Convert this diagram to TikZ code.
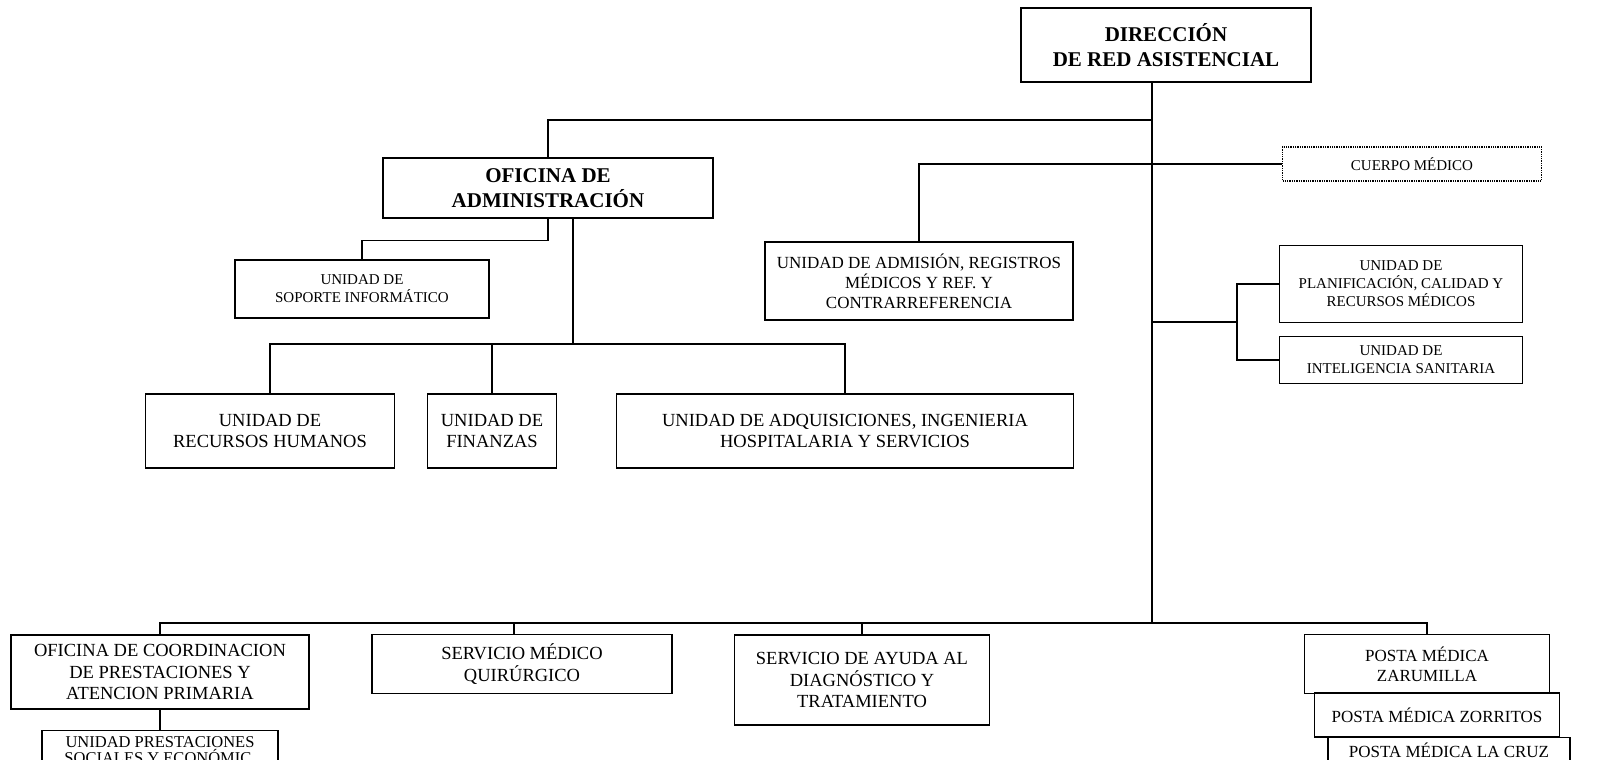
\documentclass[tikz,border=0pt]{standalone}
\usepackage{fontspec}
\setmainfont{Liberation Serif}
\usetikzlibrary{positioning}

\tikzset{
  unit/.style={draw, line width=1.3pt, align=center, inner sep=2pt,
    font=\fontsize{17}{20}\selectfont},
  bigunit/.style={unit, font=\fontsize{18.5}{21.5}\selectfont},
  smallunit/.style={unit, font=\fontsize{15}{18}\selectfont},
  head/.style={unit, font=\bfseries\fontsize{21}{25}\selectfont},
  link/.style={line width=1.3pt}
}

\begin{document}
\begin{tikzpicture}[x=1pt,y=-1pt]
  \useasboundingbox (0,0) rectangle (1610,760);

  % direccion y oficina
  \node (dir) [head, minimum width=290pt, minimum height=74pt] at (1166,45) {DIRECCIÓN\\DE RED ASISTENCIAL};
  \node (ofi) [head, minimum width=330pt, minimum height=60pt] at (548,188) {OFICINA DE\\ADMINISTRACIÓN};
  \node (cuerpo) [smallunit, densely dotted, minimum width=259pt, minimum height=34pt] at (1412,164) {CUERPO MÉDICO};
  \node (adm) [unit, minimum width=308pt, minimum height=78pt] at (919,281) {UNIDAD DE ADMISIÓN, REGISTROS\\MÉDICOS Y REF. Y\\CONTRARREFERENCIA};
  \node (sop) [smallunit, minimum width=254pt, minimum height=58pt] at (362,289) {UNIDAD DE\\SOPORTE INFORMÁTICO};

  % unidades de la oficina
  \node (rrhh) [bigunit, minimum width=249pt, minimum height=74pt] at (270,431) {UNIDAD DE\\RECURSOS HUMANOS};
  \node (fin) [bigunit, minimum width=129pt, minimum height=74pt] at (492,431) {UNIDAD DE\\FINANZAS};
  \node (adq) [bigunit, minimum width=457pt, minimum height=74pt] at (845,431) {UNIDAD DE ADQUISICIONES, INGENIERIA\\HOSPITALARIA Y SERVICIOS};

  % unidades de la derecha
  \node (plan) [smallunit, minimum width=243pt, minimum height=77pt] at (1401,284) {UNIDAD DE\\PLANIFICACIÓN, CALIDAD Y\\RECURSOS MÉDICOS};
  \node (intel) [smallunit, minimum width=243pt, minimum height=47pt] at (1401,360) {UNIDAD DE\\INTELIGENCIA SANITARIA};

  % fila de abajo
  \node (coord) [bigunit, minimum width=298pt, minimum height=74pt] at (160,672) {OFICINA DE COORDINACION\\DE PRESTACIONES Y\\ATENCION PRIMARIA};
  \node (prest) [bigunit, anchor=north, inner ysep=6pt, font=\fontsize{16.5}{16}\selectfont, minimum width=236pt] at (160,730) {UNIDAD PRESTACIONES\\SOCIALES Y ECONÓMIC.};
  \node (sm) [bigunit, minimum width=300pt, minimum height=59pt] at (522,664) {SERVICIO MÉDICO\\QUIRÚRGICO};
  \node (ayuda) [bigunit, minimum width=255pt, minimum height=90pt] at (862,680) {SERVICIO DE AYUDA AL\\DIAGNÓSTICO Y\\TRATAMIENTO};
  \node (zar) [unit, minimum width=245pt, minimum height=59pt] at (1427,664) {POSTA MÉDICA\\ZARUMILLA};
  \node (zorr) [unit, minimum width=245pt, minimum height=44pt] at (1437,715) {POSTA MÉDICA ZORRITOS};
  \node (cruz) [unit, minimum width=242pt, minimum height=25pt] at (1449,750) {POSTA MÉDICA LA CRUZ};

  \coordinate (j1) at (1152,120);
  \coordinate (j3) at (1152,322);
  \coordinate (j4) at (1152,623);
  \coordinate (rb) at (1237,322);
  \coordinate (mbus) at (0,344);

  % lineas
  \draw[link] (dir.south -| j4) -- (j4);
  \draw[link] (j1) -| (ofi.north);
  \draw[link] (cuerpo.west) -| (adm.north);
  \draw[link] (j3) -- (rb);
  \draw[link] (plan.west) -| (rb) |- (intel.west);
  \draw[link] (ofi.south) -- ++(0,22) -| (sop.north);
  \draw[link] ([xshift=25pt]ofi.south) -- ([xshift=25pt]ofi.south |- mbus);
  \draw[link] (rrhh.north) |- (adq.north |- mbus) -- (adq.north);
  \draw[link] (fin.north) -- (fin.north |- mbus);
  \draw[link] (coord.north) |- (j4) -| (zar.north);
  \draw[link] ([xshift=-8pt]sm.north) -- ([xshift=-8pt]sm.north |- j4);
  \draw[link] (ayuda.north) -- (ayuda.north |- j4);
  \draw[link] (coord.south) -- (prest.north);
\end{tikzpicture}
\end{document}
